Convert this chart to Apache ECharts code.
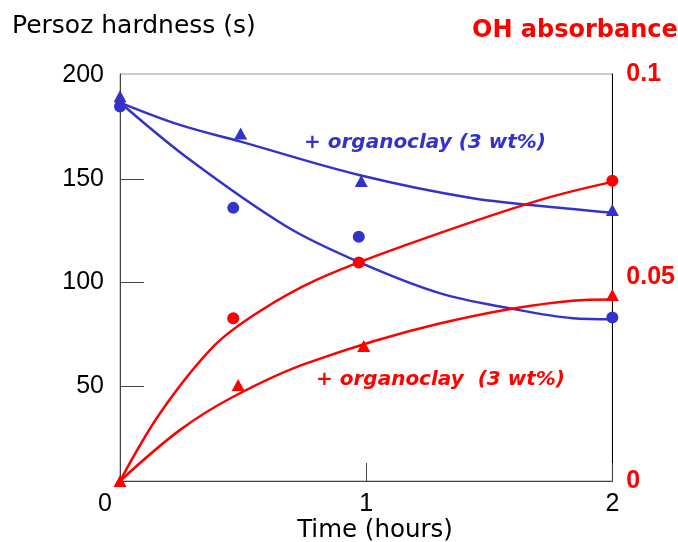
<!DOCTYPE html>
<html>
<head>
<meta charset="utf-8">
<script src="https://cdn.jsdelivr.net/npm/echarts@6/dist/echarts.min.js"></script>
<style>
  html, body { margin: 0; padding: 0; background: #fff; }
  #chart { width: 678px; height: 542px; }
</style>
</head>
<body>
<div id="chart"></div>
<script>
// time axis (hours)
var timeTicks = [0, 1, 2];
var hardTicks = [50, 100, 150, 200];
var ohTicks = [0, 0.05, 0.1];

// measured points [hours, value]
var hardNeat = [[0, 185], [0.46, 136], [0.97, 122], [2, 83]];
var hardClay = [[0, 190], [0.49, 172], [0.98, 149], [2, 135]];
var ohNeat = [[0.46, 0.040], [0.97, 0.0537], [2, 0.0738]];
var ohClay = [[0, 0], [0.48, 0.0236], [0.99, 0.0332], [2, 0.0457]];

// fitted curves
var hardNeatFit = [[0, 186.9], [0.284, 159.2], [0.676, 127], [0.971, 109.8],
  [1.298, 94.8], [1.582, 87.5], [1.839, 82.7], [2, 82.2]];
var hardClayFit = [[0, 186.9], [0.243, 176.1], [0.49, 168], [0.971, 151.9],
  [1.433, 140.7], [1.839, 135.5], [2, 133.7]];
var ohNeatFit = [[0, 0], [0.162, 0.0166], [0.379, 0.033], [0.555, 0.0412],
  [0.798, 0.0494], [1.163, 0.058], [1.704, 0.069], [2, 0.0735]];
var ohClayFit = [[0, 0], [0.243, 0.0125], [0.46, 0.0207], [0.757, 0.0289],
  [1.298, 0.0387], [1.839, 0.0443], [2, 0.0446]];

var BLUE = "#3333cc";
var RED = "#ff0000";
var tickFont = "'Liberation Sans', Arial, sans-serif";
var titleFont = "'DejaVu Sans', sans-serif";

var chart = echarts.init(document.getElementById("chart"));

function fitLine(data, color, yIdx) {
  return {
    type: "line",
    yAxisIndex: yIdx,
    data: data,
    smooth: 0.35,
    showSymbol: false,
    silent: true,
    lineStyle: { color: color, width: 2.5 },
    z: 2,
  };
}
function points(data, color, yIdx, symbol, size) {
  return {
    type: "scatter",
    yAxisIndex: yIdx,
    data: data,
    symbol: symbol,
    symbolSize: size,
    clip: false,
    itemStyle: { color: color, opacity: 1 },
    z: 3,
  };
}

var option = {
  animation: false,
  title: [
    {
      text: "Persoz hardness (s)",
      left: 12, top: 14, padding: 0,
      textStyle: { fontFamily: titleFont, fontSize: 25, fontWeight: "normal", color: "#000" },
    },
    {
      text: "OH absorbance",
      left: 472, top: 19, padding: 0,
      textStyle: { fontFamily: titleFont, fontSize: 24, fontWeight: "bold", color: RED },
    },
    {
      text: "Time (hours)",
      left: 375, top: 518, padding: 0, textAlign: "center",
      textStyle: { fontFamily: titleFont, fontSize: 24.5, fontWeight: "normal", color: "#000" },
    },
  ],
  graphic: [
    {
      type: "text", x: 304, y: 143,
      style: { text: "+ organoclay (3 wt%)", fill: BLUE, verticalAlign: "middle",
        font: "italic bold 20px 'DejaVu Sans', sans-serif" },
    },
    {
      type: "text", x: 316, y: 380,
      style: { text: "+ organoclay  (3 wt%)", fill: RED, verticalAlign: "middle",
        font: "italic bold 20px 'DejaVu Sans', sans-serif" },
    },
  ],
  grid: {
    left: 120, right: 65, top: 74, bottom: 61,
    show: true, borderColor: "#9a9a9a", borderWidth: 1,
  },
  xAxis: {
    type: "value",
    min: timeTicks[0], max: timeTicks[timeTicks.length - 1], interval: 1,
    axisLine: { lineStyle: { color: "#444", width: 1 } },
    axisTick: { inside: true, length: 18, lineStyle: { color: "#444" } },
    splitLine: { show: false },
    axisLabel: {
      margin: 11, fontSize: 25, fontFamily: tickFont, color: "#000",
      formatter: function (v) { return v === 0 ? "{z|0}" : String(v); },
      rich: { z: { fontSize: 25, fontFamily: tickFont, color: "#000", padding: [0, 30, 0, 0] } },
    },
  },
  yAxis: [
    {
      type: "value",
      position: "left",
      min: 4, max: 200.7,
      axisLine: { show: true, lineStyle: { color: "#444", width: 1 } },
      axisTick: { show: true, inside: true, length: 24, customValues: hardTicks.slice(0, 3),
        lineStyle: { color: "#444" } },
      splitLine: { show: false },
      axisLabel: {
        customValues: hardTicks, margin: 16, fontSize: 25, fontFamily: tickFont, color: "#000",
        padding: [12, 0, 0, 0],
      },
    },
    {
      type: "value",
      position: "right",
      min: ohTicks[0], max: ohTicks[2], interval: 0.05,
      axisLine: { show: true, lineStyle: { color: "#000", width: 1 } },
      axisTick: { show: false },
      splitLine: { show: false },
      axisLabel: {
        margin: 14, fontSize: 25, fontWeight: "bold", fontFamily: tickFont, color: RED,
        formatter: function (v) { return String(+v.toFixed(2)); },
      },
    },
  ],
  series: [
    fitLine(hardNeatFit, BLUE, 0),
    fitLine(hardClayFit, BLUE, 0),
    fitLine(ohNeatFit, RED, 1),
    fitLine(ohClayFit, RED, 1),
    points(hardNeat, BLUE, 0, "circle", 12),
    points(hardClay, BLUE, 0, "triangle", [13, 12]),
    points(ohNeat, RED, 1, "circle", 12),
    points(ohClay, RED, 1, "triangle", [13, 12]),
  ],
};

chart.setOption(option);
</script>
</body>
</html>
